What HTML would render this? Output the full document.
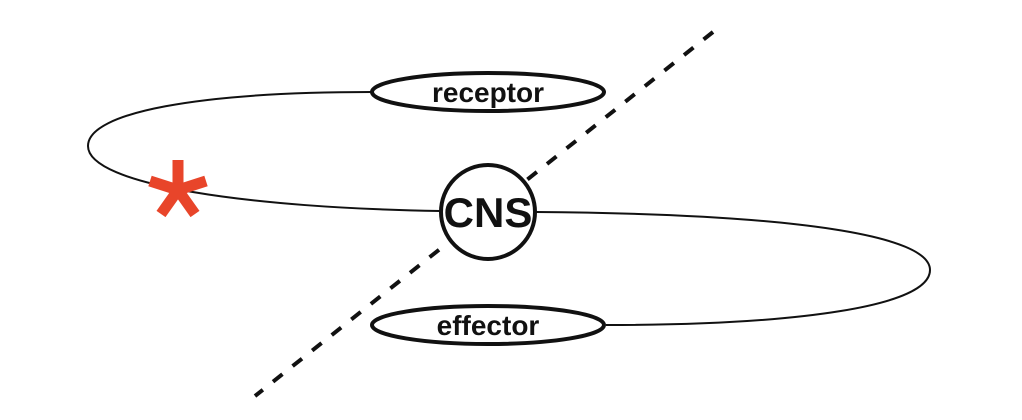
<!DOCTYPE html>
<html><head><style>html,body{margin:0;padding:0;background:#fff;width:1022px;height:420px;overflow:hidden}</style></head>
<body>
<svg width="1022" height="420" viewBox="0 0 1022 420" xmlns="http://www.w3.org/2000/svg">
<line x1="713" y1="32" x2="255" y2="396" stroke="#111" stroke-width="4" stroke-dasharray="12,13"/>
<path d="M372,92 C200,92 88,112 88,146 C88,185 250,208 440,211" fill="none" stroke="#111" stroke-width="2"/>
<path d="M536,212 C800,214 930,236 930,270 C930,306 800,325 606,325" fill="none" stroke="#111" stroke-width="2"/>
<ellipse cx="488" cy="92" rx="116" ry="19" fill="#fff" stroke="#111" stroke-width="4"/>
<ellipse cx="488" cy="325" rx="116" ry="19" fill="#fff" stroke="#111" stroke-width="4"/>
<circle cx="488" cy="212" r="47" fill="#fff" stroke="#111" stroke-width="4"/>
<text x="488" y="102" text-anchor="middle" font-family="Liberation Sans, sans-serif" font-weight="bold" font-size="28" fill="#111">receptor</text>
<text x="488" y="335" text-anchor="middle" font-family="Liberation Sans, sans-serif" font-weight="bold" font-size="28" fill="#111">effector</text>
<text x="488" y="227" text-anchor="middle" font-family="Liberation Sans, sans-serif" font-weight="bold" font-size="42" fill="#111">CNS</text>
<g stroke="#e8452a" stroke-width="11" stroke-linecap="butt">
<line x1="178" y1="190" x2="178" y2="160"/>
<line x1="178" y1="190" x2="150" y2="181"/>
<line x1="178" y1="190" x2="206" y2="181"/>
<line x1="178" y1="190" x2="161" y2="214"/>
<line x1="178" y1="190" x2="195" y2="214"/>
</g>
</svg>
</body></html>
